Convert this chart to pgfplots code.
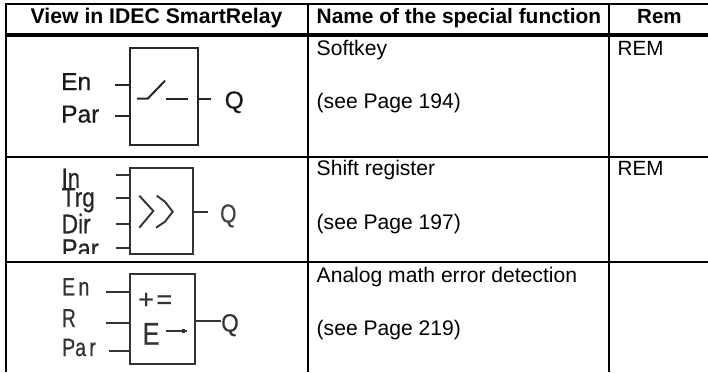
\documentclass[border=0pt]{standalone}
\usepackage{fontspec}
\setmainfont{Liberation Sans}
\newfontfamily\ic[FakeBold=0.6]{Liberation Sans}
\usepackage{graphicx}
\usepackage{pgfplots}
\pgfplotsset{compat=1.18}
\newcommand{\seg}[2]{\addplot[no marks,color=black!#1!white,line width=#2] coordinates}
\newcommand{\txt}[5]{\node[anchor=base west,inner sep=0pt,text=black!#4!white] at (axis cs:#1,#2) {\fontsize{#3}{#3}\selectfont #5};}
\begin{document}
\begin{tikzpicture}
\begin{axis}[name=a,hide axis,scale only axis,width=708pt,height=372pt,
  xmin=0,xmax=708,ymin=0,ymax=372,y dir=reverse,clip=false]
% Softkey block
\seg{85}{2pt} {(129.5,48.3) (198,48.3) (198,145.3) (129.5,145.3) (129.5,48.3) (198,48.3)};
\seg{85}{2pt} {(115,85) (129.5,85)};
\seg{85}{2pt} {(115,116) (129.5,116)};
\seg{85}{2pt} {(198,98.7) (211,98.7)};
\seg{85}{2pt} {(137,98.7) (147.7,98.7) (165,80.7)};
\seg{85}{2pt} {(165.7,98.7) (187.7,98.7)};
\txt{61}{90}{24.5}{90}{\ic En}
\txt{61}{122.5}{24.5}{90}{\ic Par}
\txt{224.5}{108.5}{24.5}{90}{\ic Q}
% Shift register block
\txt{61.5}{188}{28}{85}{\ic\scalebox{.78}[1]{In}}
\txt{61.5}{206.7}{27}{85}{\ic\scalebox{.84}[1]{Trg}}
\txt{61.5}{233.3}{27}{85}{\ic\scalebox{.84}[1]{Dir}}
\txt{61.5}{258}{27}{85}{\ic\scalebox{.88}[1]{Par}}
\addplot[draw=none,fill=white] coordinates {(55,253.7) (110,253.7) (110,262) (55,262)};
\seg{80}{1.9pt} {(130.3,167.7) (192.7,167.7) (192.7,253.7) (130.3,253.7) (130.3,167.7) (192.7,167.7)};
\seg{80}{1.9pt} {(116,175) (130.3,175)};
\seg{80}{1.9pt} {(116,198.3) (130.3,198.3)};
\seg{80}{1.9pt} {(116,224.3) (130.3,224.3)};
\seg{80}{1.9pt} {(116,248.3) (130.3,248.3)};
\seg{80}{1.9pt} {(192.7,211.7) (208,211.7)};
\seg{80}{1.9pt} {(139.3,195.7) (153.3,211) (139.3,227.7)};
\seg{80}{1.9pt} {(156.7,195.7) (165,201.7) (172.7,211.7) (165,221.7) (156,227.7)};
\txt{220}{222.5}{26}{75}{\ic\scalebox{.8}[1]{Q}}
% Analog math error block
\txt{62}{295.3}{25}{80}{\ic\scalebox{.78}[1]{E\,n}}
\txt{62}{327}{26}{80}{\ic\scalebox{.72}[1]{R}}
\txt{62}{356}{25}{80}{\ic\scalebox{.78}[1]{Pa\,r}}
\seg{80}{2pt} {(130.3,274) (195.3,274) (195.3,363.7) (130.3,363.7) (130.3,274) (195.3,274)};
\seg{80}{1.9pt} {(106,292) (130.3,292)};
\seg{80}{1.9pt} {(106,323) (130.3,323)};
\seg{80}{1.9pt} {(109.3,351.3) (130.3,351.3)};
\seg{80}{1.9pt} {(195.3,320.7) (220.7,320.7)};
\seg{80}{1.5pt} {(166,331) (187.3,331)};
\seg{80}{3.5pt} {(181.5,331) (184.5,331)};
\txt{221}{331.5}{25}{80}{\ic\scalebox{.9}[1]{Q}}
\node[anchor=base west,inner sep=0pt,text=black!80!white] at (axis cs:138,308.5) {\fontsize{27}{27}\selectfont\ic +\kern 2.5pt=};
\node[anchor=base west,inner sep=0pt,text=black!80!white] at (axis cs:142.5,344.7) {\ic\scalebox{.8}[1]{\fontsize{31.5}{31.5}\selectfont E}};
% Grid
\seg{100}{2.2pt} {(4.6,4.3) (708,4.3)};
\seg{100}{4.4pt} {(4.6,35) (708,35)};
\seg{100}{2.2pt} {(4.6,156.7) (708,156.7)};
\seg{100}{2.2pt} {(4.6,262.3) (708,262.3)};
\seg{100}{2.2pt} {(5.7,3.2) (5.7,372)};
\seg{100}{2.2pt} {(307.8,3.2) (307.8,372)};
\seg{100}{2.2pt} {(609.3,3.2) (609.3,372)};
% Header
\node[anchor=base west,inner sep=0pt] at (axis cs:30.5,23) {\fontsize{21.2}{21.2}\selectfont\bfseries View in IDEC SmartRelay};
\node[anchor=base west,inner sep=0pt] at (axis cs:316.5,23) {\fontsize{20.9}{20.9}\selectfont\bfseries Name of the special function};
\node[anchor=base west,inner sep=0pt] at (axis cs:637,23) {\fontsize{20.5}{20.5}\selectfont\bfseries Rem};
% Body
\txt{316.5}{55}{21.1}{100}{Softkey}
\txt{316.5}{108.5}{21.1}{100}{(see Page 194)}
\txt{316.5}{175.7}{21.1}{100}{Shift register}
\txt{316.5}{229.3}{21.1}{100}{(see Page 197)}
\txt{316.5}{282.3}{21.1}{100}{Analog math error detection}
\txt{316.5}{335}{21.1}{100}{(see Page 219)}
\txt{617.5}{55}{20.6}{100}{REM}
\txt{617.5}{175.7}{20.6}{100}{REM}
\end{axis}
\pgfresetboundingbox
\path[use as bounding box] (a.south west) rectangle (a.north east);
\end{tikzpicture}
\end{document}
